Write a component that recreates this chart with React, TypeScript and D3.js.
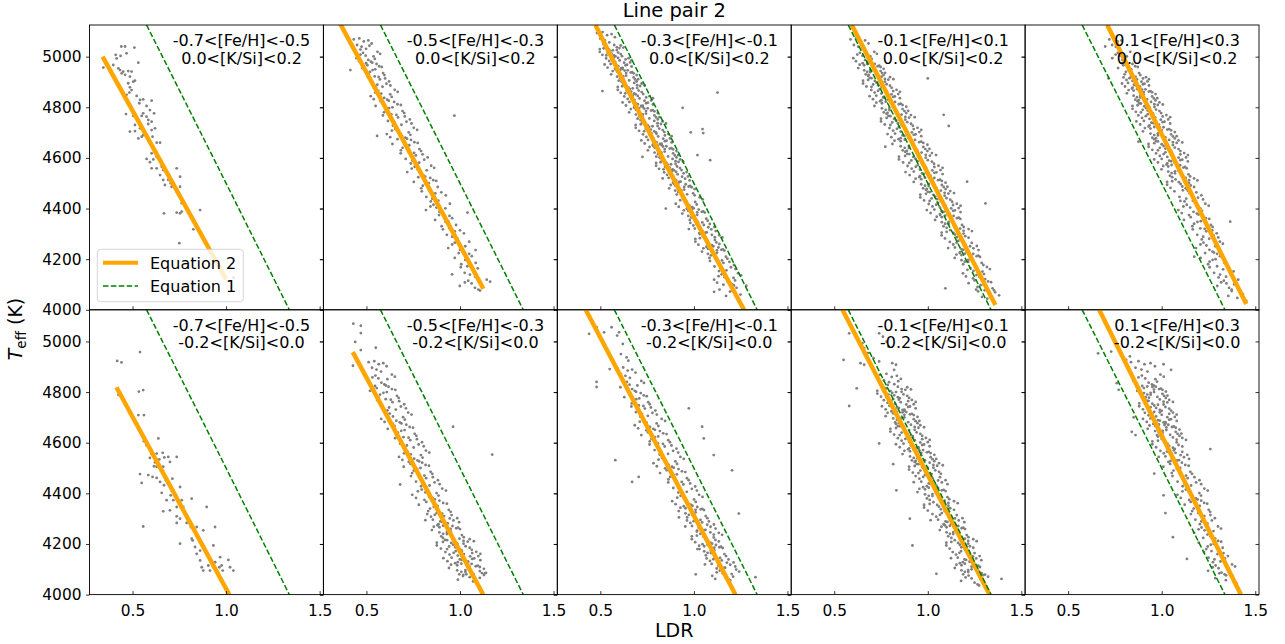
import { useEffect, useRef } from "react";
import * as d3 from "d3";

const feHBins = ["-0.7<[Fe/H]<-0.5", "-0.5<[Fe/H]<-0.3", "-0.3<[Fe/H]<-0.1", "-0.1<[Fe/H]<0.1", "0.1<[Fe/H]<0.3"];
const kSiBins = ["0.0<[K/Si]<0.2", "-0.2<[K/Si]<0.0"];
const xTicks = [0.5, 1.0, 1.5];
const yTicks = [4000, 4200, 4400, 4600, 4800, 5000];
const ldrRange = [0.27, 1.52];
const teffRange = [4000, 5125];

// Equation 1 does not depend on abundances, same curve in every panel
const equation1 = [[0.575, 5125], [0.932, 4600], [1.338, 4000]];

// Equation 2, one per panel (upper row: 0.0<[K/Si]<0.2, lower row: -0.2<[K/Si]<0.0)
const eq2Upper = [
  [[0.34, 5000], [1.0, 4120]],
  [[0.356, 5135], [1.125, 4083]],
  [[0.474, 5125], [0.832, 4600], [1.268, 4000]],
  [[0.594, 5125], [1.361, 4019]],
  [[0.709, 5125], [1.452, 4023]],
];
const eq2Lower = [
  [[0.414, 4819], [1.017, 4000]],
  [[0.427, 4958], [1.124, 4000]],
  [[0.422, 5125], [1.222, 4000]],
  [[0.544, 5125], [1.33, 4000]],
  [[0.666, 5125], [1.423, 4000]],
];

const upperM07 = [[0.44,5040],[0.46,5040],[0.51,5036],[0.41,5007],[0.415,4993],[0.436,5003],[0.468,5013],[0.531,4976],[0.344,4957],[0.397,4967],[0.424,4954],[0.433,4947],[0.45,4941],[0.477,4943],[0.495,4941],[0.442,4934],[0.46,4928],[0.486,4921],[0.504,4901],[0.513,4905],[0.477,4895],[0.486,4879],[0.495,4868],[0.483,4858],[0.468,4849],[0.522,4845],[0.54,4829],[0.536,4816],[0.557,4831],[0.602,4826],[0.575,4805],[0.593,4789],[0.615,4776],[0.557,4776],[0.549,4766],[0.575,4763],[0.584,4750],[0.602,4743],[0.465,4773],[0.504,4766],[0.513,4730],[0.584,4734],[0.62,4717],[0.602,4710],[0.54,4717],[0.486,4704],[0.513,4706],[0.549,4684],[0.531,4677],[0.557,4690],[0.584,4671],[0.607,4684],[0.629,4660],[0.611,4638],[0.647,4660],[0.602,4618],[0.629,4605],[0.611,4594],[0.575,4596],[0.593,4583],[0.656,4565],[0.629,4559],[0.602,4559],[0.664,4552],[0.647,4532],[0.664,4513],[0.673,4493],[0.691,4513],[0.704,4500],[0.736,4559],[0.754,4526],[0.709,4486],[0.754,4486],[0.736,4467],[0.763,4421],[0.754,4381],[0.736,4384],[0.763,4388],[0.861,4394],[0.668,4381],[0.825,4318],[0.75,4263],[1.04,4127]];

const upperM05 = [[0.432,5068],[0.462,5072],[0.486,5060],[0.45,5046],[0.51,5064],[0.474,5039],[0.498,5031],[0.528,5052],[0.468,5028],[0.516,5043],
[0.447,4994],[0.482,5015],[0.524,4980],[0.468,5008],[0.538,5001],[0.51,4987],[0.559,5019],[0.496,5004],[0.531,4976],[0.573,5011],[0.461,4982],[0.545,4991],
[0.498,4974],[0.533,4947],[0.568,4962],[0.477,4955],[0.589,4935],[0.554,4971],[0.512,4930],[0.547,4950],[0.582,4959],[0.519,4940],[0.596,4927],[0.505,4966],[0.414,4947],
[0.509,4918],[0.544,4922],[0.572,4910],[0.53,4896],[0.60,4914],[0.558,4889],[0.586,4881],[0.621,4902],[0.551,4878],[0.607,4893],[0.565,4920],[0.628,4886],
[0.523,4844],[0.563,4865],[0.611,4830],[0.547,4858],[0.627,4851],[0.595,4837],[0.651,4869],[0.579,4854],[0.619,4826],[0.667,4861],[0.539,4832],[0.635,4841],
[0.576,4824],[0.621,4797],[0.666,4812],[0.549,4805],[0.693,4785],[0.648,4821],[0.594,4780],[0.639,4800],[0.684,4809],[0.603,4790],[0.702,4777],[0.585,4816],
[0.588,4768],[0.633,4772],[0.669,4760],[0.615,4746],[0.705,4764],[0.651,4739],[0.687,4731],[0.732,4752],[0.642,4728],[0.714,4743],[0.66,4770],[0.741,4736],[0.97,4767],
[0.609,4694],[0.654,4715],[0.708,4680],[0.636,4708],[0.726,4701],[0.69,4687],[0.753,4719],[0.672,4704],[0.717,4676],[0.771,4711],[0.627,4682],[0.735,4691],[0.557,4687],
[0.666,4674],[0.711,4647],[0.756,4662],[0.639,4655],[0.783,4635],[0.738,4671],[0.684,4630],[0.729,4650],[0.774,4659],[0.693,4640],[0.792,4627],
[0.683,4618],[0.728,4622],[0.764,4610],[0.71,4596],[0.80,4614],[0.746,4589],[0.782,4581],[0.827,4602],[0.737,4578],[0.809,4593],[0.755,4620],
[0.718,4544],[0.758,4565],[0.806,4530],[0.742,4558],[0.822,4551],[0.79,4537],[0.846,4569],[0.774,4554],[0.814,4526],[0.862,4561],
[0.777,4524],[0.817,4497],[0.857,4512],[0.753,4505],[0.881,4485],[0.841,4521],[0.793,4480],[0.833,4500],[0.873,4509],[0.801,4490],
[0.796,4468],[0.836,4472],[0.868,4460],[0.82,4446],[0.90,4464],[0.852,4439],[0.884,4431],[0.924,4452],[0.844,4428],
[0.818,4394],[0.858,4415],[0.906,4380],[0.842,4408],[0.922,4401],[0.89,4387],[0.946,4419],[0.874,4404],[0.914,4376],[1.04,4384],
[0.888,4374],[0.923,4347],[0.958,4362],[0.867,4355],[0.979,4335],[0.944,4371],[0.902,4330],[0.937,4350],
[0.909,4318],[0.944,4322],[0.972,4310],[0.93,4296],[1.00,4314],[0.958,4289],[0.986,4281],[1.021,4302],
[0.937,4244],[0.972,4265],[1.014,4230],[0.958,4258],[1.028,4251],[1.0,4237],[1.049,4269],
[0.993,4224],[1.028,4197],[1.063,4212],[0.972,4205],[1.084,4185],[1.049,4221],[1.007,4180],[1.042,4200],[1.083,4236],
[1.004,4168],[1.039,4172],[1.067,4160],[1.025,4146],[1.095,4164],[1.053,4139],[1.081,4131],[0.958,4140],
[0.999,4094],[1.044,4115],[1.098,4080],[1.026,4108],[1.116,4101],[1.08,4087],[1.143,4119],[1.062,4104],[1.107,4076],[1.161,4111]];

const upperM03 = [[0.482,5093],[0.512,5097],[0.536,5085],[0.50,5071],[0.56,5089],[0.524,5064],[0.548,5056],[0.578,5077],
[0.497,5019],[0.532,5040],[0.574,5005],[0.518,5033],[0.588,5026],[0.56,5012],[0.609,5044],[0.546,5029],[0.581,5001],[0.623,5036],[0.511,5007],[0.595,5016],
[0.518,5049],[0.553,5022],[0.588,5037],[0.497,5030],[0.609,5010],[0.574,5046],[0.532,5005],[0.567,5025],[0.602,5034],[0.539,5015],[0.616,5002],[0.525,5041],
[0.531,4993],[0.571,4997],[0.603,4985],[0.555,4971],[0.635,4989],[0.587,4964],[0.619,4956],[0.659,4977],[0.579,4953],[0.643,4968],[0.595,4995],[0.667,4961],
[0.523,4969],[0.563,4990],[0.611,4955],[0.547,4983],[0.627,4976],[0.595,4962],[0.651,4994],[0.579,4979],[0.619,4951],[0.667,4986],[0.539,4957],[0.635,4966],
[0.582,4949],[0.622,4922],[0.662,4937],[0.558,4930],[0.686,4910],[0.646,4946],[0.598,4905],[0.638,4925],[0.678,4934],[0.606,4915],[0.694,4902],[0.59,4941],
[0.566,4943],[0.606,4947],[0.638,4935],[0.59,4921],[0.67,4939],[0.622,4914],[0.654,4906],[0.694,4927],[0.614,4903],[0.678,4918],[0.63,4945],[0.702,4911],[0.511,4864],
[0.593,4869],[0.633,4890],[0.681,4855],[0.617,4883],[0.697,4876],[0.665,4862],[0.721,4894],[0.649,4879],[0.689,4851],[0.737,4886],[0.609,4857],[0.705,4866],
[0.617,4899],[0.657,4872],[0.697,4887],[0.593,4880],[0.721,4860],[0.681,4896],[0.633,4855],[0.673,4875],[0.713,4884],[0.641,4865],[0.729,4852],[0.625,4891],[1.126,4858],
[0.628,4843],[0.673,4847],[0.709,4835],[0.655,4821],[0.745,4839],[0.691,4814],[0.727,4806],[0.772,4827],[0.682,4803],[0.754,4818],[0.70,4845],[0.781,4811],
[0.619,4819],[0.664,4840],[0.718,4805],[0.646,4833],[0.736,4826],[0.70,4812],[0.763,4844],[0.682,4829],[0.727,4801],[0.781,4836],[0.637,4807],[0.745,4816],[0.94,4798],
[0.681,4799],[0.726,4772],[0.771,4787],[0.654,4780],[0.798,4760],[0.753,4796],[0.699,4755],[0.744,4775],[0.789,4784],[0.708,4765],[0.807,4752],[0.69,4791],
[0.663,4793],[0.708,4797],[0.744,4785],[0.69,4771],[0.78,4789],[0.726,4764],[0.762,4756],[0.807,4777],[0.717,4753],[0.789,4768],[0.735,4795],[0.816,4761],
[0.689,4719],[0.734,4740],[0.788,4705],[0.716,4733],[0.806,4726],[0.77,4712],[0.833,4744],[0.752,4729],[0.797,4701],[0.851,4736],[0.707,4707],[0.815,4716],
[0.716,4749],[0.761,4722],[0.806,4737],[0.689,4730],[0.833,4710],[0.788,4746],[0.734,4705],[0.779,4725],[0.824,4734],[0.743,4715],[0.842,4702],[0.725,4741],[0.983,4701],[1.046,4714],[1.05,4698],
[0.728,4693],[0.773,4697],[0.809,4685],[0.755,4671],[0.845,4689],[0.791,4664],[0.827,4656],[0.872,4677],[0.782,4653],[0.854,4668],[0.80,4695],[0.881,4661],
[0.719,4669],[0.764,4690],[0.818,4655],[0.746,4683],[0.836,4676],[0.80,4662],[0.863,4694],[0.782,4679],[0.827,4651],[0.881,4686],[0.737,4657],[0.845,4666],
[0.781,4649],[0.826,4622],[0.871,4637],[0.754,4630],[0.898,4610],[0.853,4646],[0.799,4605],[0.844,4625],[0.889,4634],[0.808,4615],[0.907,4602],[0.79,4641],
[0.763,4643],[0.808,4647],[0.844,4635],[0.79,4621],[0.88,4639],[0.826,4614],[0.862,4606],[0.907,4627],[0.817,4603],[0.889,4618],[0.835,4645],[0.916,4611],[0.725,4604],[1.019,4611],[1.087,4591],
[0.798,4569],[0.838,4590],[0.886,4555],[0.822,4583],[0.902,4576],[0.87,4562],[0.926,4594],[0.854,4579],[0.894,4551],[0.942,4586],[0.814,4557],[0.91,4566],
[0.822,4599],[0.862,4572],[0.902,4587],[0.798,4580],[0.926,4560],[0.886,4596],[0.838,4555],[0.878,4575],[0.918,4584],[0.846,4565],[0.934,4552],[0.83,4591],
[0.841,4543],[0.881,4547],[0.913,4535],[0.865,4521],[0.945,4539],[0.897,4514],[0.929,4506],[0.969,4527],[0.889,4503],[0.953,4518],[0.905,4545],[0.977,4511],
[0.833,4519],[0.873,4540],[0.921,4505],[0.857,4533],[0.937,4526],[0.905,4512],[0.961,4544],[0.889,4529],
[0.892,4499],[0.932,4472],[0.972,4487],[0.868,4480],[0.996,4460],[0.956,4496],[0.908,4455],[0.948,4475],[0.988,4484],[0.916,4465],[1.004,4452],[0.90,4491],
[0.876,4493],[0.916,4497],[0.948,4485],[0.90,4471],[0.98,4489],[0.932,4464],[0.964,4456],[1.004,4477],
[0.903,4419],[0.943,4440],[0.991,4405],[0.927,4433],[1.007,4426],[0.975,4412],[1.031,4444],[0.959,4429],[0.999,4401],[1.047,4436],[0.919,4407],[1.015,4416],[0.85,4400],
[0.962,4399],[1.002,4372],[1.042,4387],[0.938,4380],[1.066,4360],[1.026,4396],[0.978,4355],[1.018,4375],[1.058,4384],[0.986,4365],[1.074,4352],[0.97,4391],
[0.946,4393],[0.986,4397],[1.018,4385],[0.97,4371],[1.05,4389],[1.002,4364],
[0.981,4343],[1.021,4347],[1.053,4335],[1.005,4321],[1.085,4339],[1.037,4314],[1.069,4306],[1.109,4327],[1.029,4303],[1.093,4318],[1.045,4345],[1.117,4311],
[0.973,4319],[1.013,4340],[1.061,4305],[0.997,4333],[1.077,4326],[1.045,4312],
[1.008,4269],[1.048,4290],[1.096,4255],[1.032,4283],[1.112,4276],[1.08,4262],[1.136,4294],[1.064,4279],[1.104,4251],[1.152,4286],[1.024,4257],[1.12,4266],
[1.032,4299],[1.072,4272],[1.112,4287],[1.008,4280],[1.136,4260],[1.096,4296],
[1.067,4249],[1.107,4222],[1.147,4237],[1.043,4230],[1.171,4210],[1.131,4246],[1.083,4205],[1.123,4225],[1.163,4234],[1.091,4215],[1.179,4202],[1.075,4241],
[1.051,4243],[1.091,4247],[1.123,4235],[1.075,4221],[1.155,4239],[1.107,4214],
[1.086,4193],[1.126,4197],[1.158,4185],[1.11,4171],[1.19,4189],[1.142,4164],[1.174,4156],[1.214,4177],[1.134,4153],[1.198,4168],[1.15,4195],[1.222,4161],
[1.108,4119],[1.148,4140],[1.196,4105],[1.132,4133],[1.212,4126],[1.18,4112],[1.236,4144],[1.164,4129],[1.204,4101],[1.252,4136],[1.124,4107],[1.22,4116],
[1.158,4099],[1.193,4072],[1.228,4087],[1.137,4080],[1.249,4060],[1.214,4096],[1.172,4055],[1.207,4075],[1.108,4071],[1.28,4095]];

const upperM01 = [[0.587,5068],[0.617,5072],[0.641,5060],[0.605,5046],[0.665,5064],[0.629,5039],[0.653,5031],[0.683,5052],
[0.602,4994],[0.637,5015],[0.679,4980],[0.623,5008],[0.693,5001],[0.665,4987],[0.714,5019],[0.651,5004],[0.686,4976],[0.728,5011],[0.616,4982],[0.70,4991],
[0.652,4974],[0.692,4947],[0.732,4962],[0.628,4955],[0.756,4935],[0.716,4971],[0.668,4930],[0.708,4950],[0.748,4959],[0.676,4940],[0.764,4927],[0.66,4966],
[0.636,4968],[0.676,4972],[0.708,4960],[0.66,4946],[0.74,4964],[0.692,4939],[0.724,4931],[0.764,4952],[0.684,4928],[0.748,4943],[0.70,4970],[0.772,4936],
[0.654,4894],[0.699,4915],[0.753,4880],[0.681,4908],[0.771,4901],[0.735,4887],[0.798,4919],[0.717,4904],[0.762,4876],[0.816,4911],[0.672,4882],[0.78,4891],
[0.681,4924],[0.726,4897],[0.771,4912],[0.654,4905],[0.798,4885],[0.753,4921],[0.699,4880],[0.744,4900],[0.789,4909],[0.708,4890],[0.807,4877],[0.69,4916],[1.00,4914],
[0.698,4868],[0.743,4872],[0.779,4860],[0.725,4846],[0.815,4864],[0.761,4839],[0.797,4831],[0.842,4852],[0.752,4828],[0.824,4843],[0.77,4870],[0.851,4836],
[0.689,4844],[0.734,4865],[0.788,4830],[0.716,4858],[0.806,4851],[0.77,4837],[0.833,4869],[0.752,4854],[0.797,4826],[0.851,4861],[0.707,4832],[0.815,4841],
[0.745,4824],[0.795,4797],[0.845,4812],[0.715,4805],[0.875,4785],[0.825,4821],[0.765,4780],[0.815,4800],[0.865,4809],[0.775,4790],[0.885,4777],[0.755,4816],
[0.725,4818],[0.775,4822],[0.815,4810],[0.755,4796],[0.855,4814],[0.795,4789],[0.835,4781],[0.885,4802],[0.785,4778],[0.865,4793],[0.805,4820],[0.895,4786],[1.085,4770],
[0.75,4744],[0.80,4765],[0.86,4730],[0.78,4758],[0.88,4751],[0.84,4737],[0.91,4769],[0.82,4754],[0.87,4726],[0.93,4761],[0.77,4732],[0.89,4741],
[0.78,4774],[0.83,4747],[0.88,4762],[0.75,4755],[0.91,4735],[0.86,4771],[0.80,4730],[0.85,4750],[0.90,4759],[0.81,4740],[0.92,4727],[0.79,4766],[1.112,4726],
[0.795,4718],[0.845,4722],[0.885,4710],[0.825,4696],[0.925,4714],[0.865,4689],[0.905,4681],[0.955,4702],[0.855,4678],[0.935,4693],[0.875,4720],[0.965,4686],
[0.785,4694],[0.835,4715],[0.895,4680],[0.815,4708],[0.915,4701],[0.875,4687],[0.945,4719],[0.855,4704],[0.905,4676],[0.965,4711],[0.805,4682],[0.925,4691],
[0.844,4674],[0.899,4647],[0.954,4662],[0.811,4655],[0.987,4635],[0.932,4671],[0.866,4630],[0.921,4650],[0.976,4659],[0.877,4640],[0.998,4627],[0.855,4666],
[0.822,4668],[0.877,4672],[0.921,4660],[0.855,4646],[0.965,4664],[0.899,4639],[0.943,4631],[0.998,4652],[0.888,4628],[0.976,4643],[0.91,4670],[1.009,4636],[0.773,4644],
[0.846,4594],[0.901,4615],[0.967,4580],[0.879,4608],[0.989,4601],[0.945,4587],[1.022,4619],[0.923,4604],[0.978,4576],[1.044,4611],[0.868,4582],[1.00,4591],
[0.879,4624],[0.934,4597],[0.989,4612],[0.846,4605],[1.022,4585],[0.967,4621],[0.901,4580],[0.956,4600],[1.011,4609],[0.912,4590],[1.033,4577],[0.89,4616],
[0.892,4568],[0.947,4572],[0.991,4560],[0.925,4546],[1.035,4564],[0.969,4539],[1.013,4531],[1.068,4552],[0.958,4528],[1.046,4543],[0.98,4570],[1.079,4536],
[0.881,4544],[0.936,4565],[1.002,4530],[0.914,4558],[1.024,4551],[0.98,4537],[1.057,4569],[0.958,4554],[1.013,4526],[1.079,4561],[0.903,4532],[1.035,4541],
[0.955,4524],[1.005,4497],[1.055,4512],[0.925,4505],[1.085,4485],[1.035,4521],[0.975,4480],[1.025,4500],[1.075,4509],[0.985,4490],[1.095,4477],[0.965,4516],
[0.935,4518],[0.985,4522],[1.025,4510],[0.965,4496],[1.065,4514],[1.005,4489],[1.045,4481],[1.095,4502],[0.995,4478],[1.075,4493],[1.015,4520],[1.105,4486],[1.21,4506],
[0.96,4444],[1.01,4465],[1.07,4430],[0.99,4458],[1.09,4451],[1.05,4437],[1.12,4469],[1.03,4454],[1.08,4426],[1.14,4461],[0.98,4432],[1.10,4441],
[0.99,4474],[1.04,4447],[1.09,4462],[0.96,4455],[1.12,4435],[1.07,4471],[1.01,4430],[1.06,4450],[1.11,4459],[1.02,4440],[1.13,4427],[1.00,4466],
[1.005,4418],[1.055,4422],[1.095,4410],[1.035,4396],[1.135,4414],[1.075,4389],[1.115,4381],[1.165,4402],[1.065,4378],[1.145,4393],[1.085,4420],[1.175,4386],
[0.995,4394],[1.045,4415],[1.105,4380],[1.025,4408],[1.125,4401],[1.085,4387],[1.155,4419],[1.065,4404],[1.115,4376],[1.175,4411],[1.015,4382],[1.135,4391],[1.308,4420],
[1.066,4374],[1.111,4347],[1.156,4362],[1.039,4355],[1.183,4335],[1.138,4371],[1.084,4330],[1.129,4350],[1.174,4359],[1.093,4340],[1.192,4327],[1.075,4366],
[1.048,4368],[1.093,4372],[1.129,4360],[1.075,4346],[1.165,4364],[1.111,4339],
[1.074,4294],[1.119,4315],[1.173,4280],[1.101,4308],[1.191,4301],[1.155,4287],[1.218,4319],[1.137,4304],[1.182,4276],[1.236,4311],[1.092,4282],[1.20,4291],
[1.101,4324],[1.146,4297],[1.191,4312],[1.074,4305],[1.218,4285],[1.173,4321],
[1.118,4268],[1.163,4272],[1.199,4260],[1.145,4246],[1.235,4264],[1.181,4239],[1.217,4231],[1.262,4252],[1.172,4228],[1.244,4243],[1.19,4270],[1.271,4236],
[1.109,4244],[1.154,4265],[1.208,4230],[1.136,4258],[1.226,4251],[1.19,4237],
[1.171,4224],[1.216,4197],[1.261,4212],[1.144,4205],[1.288,4185],[1.243,4221],[1.189,4180],[1.234,4200],[1.279,4209],[1.198,4190],[1.297,4177],[1.18,4216],
[1.153,4218],[1.198,4222],[1.234,4210],[1.18,4196],[1.27,4214],[1.216,4189],
[1.188,4144],[1.228,4165],[1.276,4130],[1.212,4158],[1.292,4151],[1.26,4137],[1.316,4169],[1.244,4154],[1.284,4126],[1.332,4161],[1.204,4132],[1.30,4141],
[1.242,4124],[1.282,4097],[1.322,4112],[1.218,4105],[1.346,4085],[1.306,4121],[1.258,4080],[1.298,4100],[1.338,4109],[1.266,4090],[1.354,4077],[1.25,4116],[1.094,4085],
[1.269,4073],[1.304,4077],[1.332,4065],[1.29,4051],[1.36,4069],[1.318,4044],[1.346,4036],[1.381,4057]];

const upperP01 = [[0.72,5068],[0.745,5072],[0.765,5060],[0.735,5046],[0.785,5064],[0.755,5039],[0.698,5040],
[0.736,4994],[0.766,5015],[0.802,4980],[0.754,5008],[0.814,5001],[0.79,4987],[0.832,5019],[0.778,5004],[0.716,4914],
[0.788,4974],[0.823,4947],[0.858,4962],[0.767,4955],[0.879,4935],[0.844,4971],[0.802,4930],[0.837,4950],[0.872,4959],[0.809,4940],[0.886,4927],[0.795,4966],
[0.796,4918],[0.836,4922],[0.868,4910],[0.82,4896],[0.90,4914],[0.852,4889],[0.884,4881],[0.924,4902],[0.844,4878],[0.908,4893],[0.86,4920],[0.932,4886],
[0.788,4894],[0.828,4915],[0.876,4880],[0.812,4908],[0.892,4901],[0.86,4887],[0.916,4919],[0.844,4904],[0.884,4876],[0.932,4911],[0.804,4882],[0.90,4891],
[0.841,4874],[0.886,4847],[0.931,4862],[0.814,4855],[0.958,4835],[0.913,4871],[0.859,4830],[0.904,4850],[0.949,4859],[0.868,4840],[0.967,4827],[0.85,4866],
[0.823,4868],[0.868,4872],[0.904,4860],[0.85,4846],[0.94,4864],[0.886,4839],[0.922,4831],[0.967,4852],[0.877,4828],[0.949,4843],[0.895,4870],[0.976,4836],
[0.844,4794],[0.889,4815],[0.943,4780],[0.871,4808],[0.961,4801],[0.925,4787],[0.988,4819],[0.907,4804],[0.952,4776],[1.006,4811],[0.862,4782],[0.97,4791],
[0.871,4824],[0.916,4797],[0.961,4812],[0.844,4805],[0.988,4785],[0.943,4821],[0.889,4780],[0.934,4800],[0.979,4809],[0.898,4790],[0.997,4777],[0.88,4816],
[0.875,4768],[0.925,4772],[0.965,4760],[0.905,4746],[1.005,4764],[0.945,4739],[0.985,4731],[1.035,4752],[0.935,4728],[1.015,4743],[0.955,4770],[1.045,4736],
[0.865,4744],[0.915,4765],[0.975,4730],[0.895,4758],[0.995,4751],[0.955,4737],[1.025,4769],[0.935,4754],[0.985,4726],[1.045,4761],[0.885,4732],[1.005,4741],
[0.93,4724],[0.98,4697],[1.03,4712],[0.90,4705],[1.06,4685],[1.01,4721],[0.95,4680],[1.00,4700],[1.05,4709],[0.96,4690],[1.07,4677],[0.94,4716],
[0.91,4718],[0.96,4722],[1.00,4710],[0.94,4696],[1.04,4714],[0.98,4689],[1.02,4681],[1.07,4702],[0.97,4678],[1.05,4693],[0.99,4720],[1.08,4686],
[0.93,4644],[0.98,4665],[1.04,4630],[0.96,4658],[1.06,4651],[1.02,4637],[1.09,4669],[1.00,4654],[1.05,4626],[1.11,4661],[0.95,4632],[1.07,4641],
[0.96,4674],[1.01,4647],[1.06,4662],[0.93,4655],[1.09,4635],[1.04,4671],[0.98,4630],[1.03,4650],[1.08,4659],[0.99,4640],[1.10,4627],[0.97,4666],[0.876,4664],
[0.97,4618],[1.02,4622],[1.06,4610],[1.00,4596],[1.10,4614],[1.04,4589],[1.08,4581],[1.13,4602],[1.03,4578],[1.11,4593],[1.05,4620],[1.14,4586],
[0.96,4594],[1.01,4615],[1.07,4580],[0.99,4608],[1.09,4601],[1.05,4587],[1.12,4619],[1.03,4604],[1.08,4576],[1.14,4611],[0.98,4582],[1.10,4591],
[1.026,4574],[1.071,4547],[1.116,4562],[0.999,4555],[1.143,4535],[1.098,4571],[1.044,4530],[1.089,4550],[1.134,4559],[1.053,4540],[1.152,4527],[1.035,4566],
[1.008,4568],[1.053,4572],[1.089,4560],[1.035,4546],[1.125,4564],[1.071,4539],
[1.029,4494],[1.074,4515],[1.128,4480],[1.056,4508],[1.146,4501],[1.11,4487],[1.173,4519],[1.092,4504],[1.137,4476],[1.191,4511],[1.047,4482],[1.155,4491],
[1.056,4524],[1.101,4497],[1.146,4512],[1.029,4505],[1.173,4485],[1.128,4521],
[1.068,4468],[1.113,4472],[1.149,4460],[1.095,4446],[1.185,4464],[1.131,4439],[1.167,4431],[1.212,4452],[1.122,4428],[1.194,4443],[1.14,4470],[1.221,4436],
[1.089,4394],[1.134,4415],[1.188,4380],[1.116,4408],[1.206,4401],[1.17,4387],[1.233,4419],[1.152,4404],[1.197,4376],[1.251,4411],[1.107,4382],[1.215,4391],[1.10,4430],
[1.146,4374],[1.191,4347],[1.236,4362],[1.119,4355],[1.263,4335],[1.218,4371],[1.164,4330],[1.209,4350],[1.254,4359],[1.173,4340],[1.272,4327],[1.155,4366],[1.366,4348],
[1.166,4318],[1.206,4322],[1.238,4310],[1.19,4296],[1.27,4314],[1.222,4289],[1.254,4281],[1.294,4302],[1.214,4278],[1.278,4293],[1.23,4320],[1.302,4286],
[1.183,4244],[1.223,4265],[1.271,4230],[1.207,4258],[1.287,4251],[1.255,4237],[1.311,4269],[1.239,4254],[1.279,4226],[1.327,4261],
[1.232,4224],[1.272,4197],[1.312,4212],[1.208,4205],[1.336,4185],[1.296,4221],[1.248,4180],[1.288,4200],[1.328,4209],[1.256,4190],[1.174,4210],
[1.256,4168],[1.296,4172],[1.328,4160],[1.28,4146],[1.36,4164],[1.312,4139],[1.344,4131],[1.384,4152],[1.304,4128],[1.368,4143],
[1.297,4094],[1.332,4115],[1.374,4080],[1.318,4108],[1.388,4101],[1.36,4087],[1.409,4119],[1.346,4104],
[1.374,4074],[1.404,4047],[1.434,4062],[1.356,4055],[1.452,4035],[1.422,4071]];

const lowerM07 = [[0.54,4958],[0.418,4923],[0.441,4917],[0.534,4802],[0.557,4808],[0.424,4789],[0.531,4709],[0.561,4709],[0.561,4606],[0.575,4590],[0.584,4584],[0.638,4617],[0.602,4555],[0.629,4557],[0.661,4560],[0.593,4540],[0.643,4534],[0.67,4542],[0.62,4522],[0.615,4507],[0.629,4505],[0.643,4501],[0.652,4489],[0.664,4505],[0.691,4544],[0.70,4524],[0.736,4544],[0.54,4476],[0.584,4472],[0.607,4465],[0.629,4461],[0.647,4445],[0.668,4432],[0.679,4452],[0.688,4441],[0.713,4458],[0.718,4412],[0.754,4425],[0.549,4441],[0.656,4402],[0.704,4392],[0.682,4373],[0.718,4373],[0.763,4373],[0.736,4346],[0.771,4346],[0.70,4333],[0.664,4329],[0.736,4309],[0.754,4300],[0.816,4379],[0.896,4346],[0.736,4283],[0.789,4283],[0.812,4267],[0.843,4267],[0.557,4269],[0.754,4201],[0.816,4221],[0.821,4214],[0.834,4188],[0.843,4161],[0.861,4174],[0.896,4161],[0.932,4194],[0.861,4135],[0.941,4128],[0.968,4148],[0.87,4108],[0.878,4095],[0.905,4115],[0.914,4095],[0.932,4108],[0.95,4095],[0.964,4108],[0.976,4115],[0.982,4095],[1.012,4137],[1.021,4108],[1.039,4095],[0.941,4267],[0.878,4254]];

const lowerM05 = [[0.43,5070],[0.47,5062],[0.47,5033],[0.44,4998],[0.47,4966],[0.55,4975],[0.428,4904],
[0.512,4918],[0.542,4922],[0.566,4910],[0.53,4896],[0.59,4914],[0.554,4889],[0.578,4881],[0.608,4902],
[0.508,4844],[0.548,4865],[0.596,4830],[0.532,4858],[0.612,4851],[0.58,4837],[0.636,4869],[0.564,4854],[0.604,4826],[0.652,4861],
[0.546,4824],[0.591,4797],[0.636,4812],[0.519,4805],[0.663,4785],[0.618,4821],[0.564,4780],[0.609,4800],[0.654,4809],[0.573,4790],[0.672,4777],[0.555,4816],
[0.558,4768],[0.603,4772],[0.639,4760],[0.585,4746],[0.675,4764],[0.621,4739],[0.657,4731],[0.702,4752],[0.612,4728],[0.684,4743],[0.63,4770],[0.711,4736],
[0.579,4694],[0.624,4715],[0.678,4680],[0.606,4708],[0.696,4701],[0.66,4687],[0.723,4719],[0.642,4704],[0.687,4676],[0.741,4711],[0.597,4682],[0.705,4691],
[0.641,4674],[0.686,4647],[0.731,4662],[0.614,4655],[0.758,4635],[0.713,4671],[0.659,4630],[0.704,4650],[0.749,4659],[0.668,4640],[0.767,4627],[0.65,4666],[0.963,4663],
[0.653,4618],[0.698,4622],[0.734,4610],[0.68,4596],[0.77,4614],[0.716,4589],[0.752,4581],[0.797,4602],[0.707,4578],[0.779,4593],[0.725,4620],[0.806,4586],
[0.674,4544],[0.719,4565],[0.773,4530],[0.701,4558],[0.791,4551],[0.755,4537],[0.818,4569],[0.737,4554],[0.782,4526],[0.836,4561],[0.692,4532],[0.80,4541],[1.172,4553],
[0.726,4524],[0.771,4497],[0.816,4512],[0.699,4505],[0.843,4485],[0.798,4521],[0.744,4480],[0.789,4500],[0.834,4509],[0.753,4490],[0.852,4477],[0.735,4516],
[0.738,4468],[0.783,4472],[0.819,4460],[0.765,4446],[0.855,4464],[0.801,4439],[0.837,4431],[0.882,4452],[0.792,4428],[0.864,4443],[0.81,4470],[0.891,4436],
[0.745,4394],[0.795,4415],[0.855,4380],[0.775,4408],[0.875,4401],[0.835,4387],[0.905,4419],[0.815,4404],[0.865,4376],[0.925,4411],[0.765,4382],[0.885,4391],[0.68,4435],
[0.81,4374],[0.86,4347],[0.91,4362],[0.78,4355],[0.94,4335],[0.89,4371],[0.83,4330],[0.88,4350],[0.93,4359],[0.84,4340],[0.95,4327],[0.82,4366],
[0.825,4318],[0.875,4322],[0.915,4310],[0.855,4296],[0.955,4314],[0.895,4289],[0.935,4281],[0.985,4302],[0.885,4278],[0.965,4293],[0.905,4320],[0.995,4286],
[0.815,4294],[0.865,4315],[0.925,4280],[0.845,4308],[0.945,4301],[0.905,4287],
[0.88,4274],[0.93,4247],[0.98,4262],[0.85,4255],[1.01,4235],[0.96,4271],[0.90,4230],[0.95,4250],[1.00,4259],[0.91,4240],[1.02,4227],[0.89,4266],
[0.86,4268],[0.91,4272],[0.95,4260],[0.89,4246],[0.99,4264],[0.93,4239],
[0.876,4194],[0.931,4215],[0.997,4180],[0.909,4208],[1.019,4201],[0.975,4187],[1.052,4219],[0.953,4204],[1.008,4176],[1.074,4211],[0.898,4182],[1.03,4191],
[0.909,4224],[0.964,4197],[1.019,4212],[0.876,4205],[1.052,4185],[0.997,4221],[0.931,4180],[0.986,4200],[1.041,4209],[0.942,4190],[1.063,4177],[0.92,4216],
[0.922,4168],[0.977,4172],[1.021,4160],[0.955,4146],[1.065,4164],[0.999,4139],[1.043,4131],[1.098,4152],[0.988,4128],[1.076,4143],[1.01,4170],[1.109,4136],
[0.911,4144],[0.966,4165],[1.032,4130],[0.944,4158],[1.054,4151],[1.01,4137],[1.087,4169],[0.988,4154],[1.043,4126],[1.109,4161],[0.933,4132],[1.065,4141],
[0.974,4124],[1.029,4097],[1.084,4112],[0.941,4105],[1.117,4085],[1.062,4121],[0.996,4080],[1.051,4100],[1.106,4109],[1.007,4090],[1.128,4077],[0.985,4116],
[0.952,4118],[1.007,4122],[1.051,4110],[0.985,4096],[1.095,4114],[1.029,4089],[1.073,4081],[1.128,4102],[1.018,4078],[1.106,4093],[1.04,4120],[1.139,4086],
[0.989,4059],[1.034,4080],[1.088,4045],[1.016,4073],[1.106,4066],[1.07,4052],[1.133,4084],[1.052,4069]];

const lowerM03 = [[0.44,5030],[0.48,5056],[0.52,5036],[0.56,5056],[0.59,5023],[0.60,5036],[0.62,4990],[0.64,4937],[0.65,4924],[0.61,4950],[0.55,4891],[0.48,4840],[0.48,4820],
[0.592,4893],[0.622,4897],[0.646,4885],[0.61,4871],[0.67,4889],[0.634,4864],[0.658,4856],[0.688,4877],
[0.607,4819],[0.642,4840],[0.684,4805],[0.628,4833],[0.698,4826],[0.67,4812],[0.719,4844],[0.656,4829],[0.691,4801],[0.733,4836],
[0.652,4799],[0.692,4772],[0.732,4787],[0.628,4780],[0.756,4760],[0.716,4796],[0.668,4755],[0.708,4775],[0.748,4784],[0.676,4765],[0.764,4752],[0.66,4791],[0.973,4736],
[0.666,4743],[0.706,4747],[0.738,4735],[0.69,4721],[0.77,4739],[0.722,4714],[0.754,4706],[0.794,4727],[0.714,4703],[0.778,4718],[0.73,4745],[0.802,4711],
[0.684,4669],[0.729,4690],[0.783,4655],[0.711,4683],[0.801,4676],[0.765,4662],[0.828,4694],[0.747,4679],[0.792,4651],[0.846,4686],[0.702,4657],[0.81,4666],[1.044,4663],
[0.746,4649],[0.791,4622],[0.836,4637],[0.719,4630],[0.863,4610],[0.818,4646],[0.764,4605],[0.809,4625],[0.854,4634],[0.773,4615],[0.872,4602],[0.755,4641],[1.053,4617],
[0.763,4593],[0.808,4597],[0.844,4585],[0.79,4571],[0.88,4589],[0.826,4564],[0.862,4556],[0.907,4577],[0.817,4553],[0.889,4568],[0.835,4595],[0.916,4561],[1.106,4551],
[0.784,4519],[0.829,4540],[0.883,4505],[0.811,4533],[0.901,4526],[0.865,4512],[0.928,4544],[0.847,4529],[0.892,4501],[0.946,4536],[0.802,4507],[0.91,4516],[0.58,4531],
[0.846,4499],[0.891,4472],[0.936,4487],[0.819,4480],[0.963,4460],[0.918,4496],[0.864,4455],[0.909,4475],[0.954,4484],[0.873,4465],[0.972,4452],[0.855,4491],[1.204,4491],[0.705,4465],
[0.863,4443],[0.908,4447],[0.944,4435],[0.89,4421],[0.98,4439],[0.926,4414],[0.962,4406],[1.007,4427],[0.917,4403],[0.989,4418],[0.935,4445],[1.016,4411],[0.67,4445],
[0.884,4369],[0.929,4390],[0.983,4355],[0.911,4383],[1.001,4376],[0.965,4362],[1.028,4394],[0.947,4379],[0.992,4351],[1.046,4386],[0.902,4357],[1.01,4366],
[0.946,4349],[0.991,4322],[1.036,4337],[0.919,4330],[1.063,4310],[1.018,4346],[0.964,4305],[1.009,4325],[1.054,4334],[0.973,4315],[1.072,4302],[0.955,4341],
[0.928,4343],[0.973,4347],[1.009,4335],[0.955,4321],[1.045,4339],[0.991,4314],[1.24,4320],
[0.963,4293],[1.008,4297],[1.044,4285],[0.99,4271],[1.08,4289],[1.026,4264],[1.062,4256],[1.107,4277],[1.017,4253],[1.089,4268],[1.035,4295],[1.116,4261],
[0.954,4269],[0.999,4290],[1.053,4255],[0.981,4283],[1.071,4276],[1.035,4262],[0.92,4305],
[0.989,4219],[1.034,4240],[1.088,4205],[1.016,4233],[1.106,4226],[1.07,4212],[1.133,4244],[1.052,4229],[1.097,4201],[1.151,4236],[1.007,4207],[1.115,4216],
[1.016,4249],[1.061,4222],[1.106,4237],[0.989,4230],[1.133,4210],[1.088,4246],
[1.046,4199],[1.091,4172],[1.136,4187],[1.019,4180],[1.163,4160],[1.118,4196],[1.064,4155],[1.109,4175],[1.154,4184],[1.073,4165],[1.172,4152],[1.055,4191],
[1.028,4193],[1.073,4197],[1.109,4185],[1.055,4171],[1.145,4189],[1.091,4164],[1.03,4180],
[1.068,4143],[1.113,4147],[1.149,4135],[1.095,4121],[1.185,4139],[1.131,4114],[1.167,4106],[1.212,4127],[1.122,4103],[1.194,4118],[1.14,4145],[1.221,4111],
[1.059,4119],[1.104,4140],[1.158,4105],[1.086,4133],[1.176,4126],[1.14,4112],
[1.098,4074],[1.138,4095],[1.186,4060],[1.122,4088],[1.202,4081],[1.17,4067],[1.226,4099],[1.154,4084],[1.194,4056],[1.242,4091],[1.114,4062],[1.21,4071],[1.329,4069],[1.01,4080]];

const lowerM01 = [[0.58,5032],[0.61,5038],[0.65,4993],[0.66,4974],[0.68,4954],[0.71,4934],[0.74,5032],[0.76,5019],[0.78,4999],[0.79,4980],[0.55,4927],[0.62,4815],[0.64,4914],[0.66,4908],[0.74,4921],[0.81,4914],[0.83,4908],[0.82,4888],[0.58,4745],[0.74,4597],[0.815,4515],[0.832,4412],[0.904,4300],[0.918,4194],[1.046,4082],[1.394,4062],
[0.744,4868],[0.779,4872],[0.807,4860],[0.765,4846],[0.835,4864],[0.793,4839],[0.821,4831],[0.856,4852],[0.786,4828],[0.842,4843],
[0.73,4794],[0.78,4815],[0.84,4780],[0.76,4808],[0.86,4801],[0.82,4787],[0.89,4819],[0.80,4804],[0.85,4776],[0.91,4811],[0.75,4782],[0.87,4791],
[0.76,4824],[0.81,4797],[0.86,4812],[0.73,4805],[0.89,4785],[0.84,4821],[0.78,4780],[0.83,4800],[0.88,4809],[0.79,4790],[0.90,4777],[0.77,4816],
[0.765,4768],[0.815,4772],[0.855,4760],[0.795,4746],[0.895,4764],[0.835,4739],[0.875,4731],[0.925,4752],[0.825,4728],[0.905,4743],[0.845,4770],[0.935,4736],
[0.755,4744],[0.805,4765],[0.865,4730],[0.785,4758],[0.885,4751],[0.845,4737],[0.915,4769],[0.825,4754],[0.875,4726],[0.935,4761],[0.775,4732],[0.895,4741],
[0.805,4724],[0.855,4697],[0.905,4712],[0.775,4705],[0.935,4685],[0.885,4721],[0.825,4680],[0.875,4700],[0.925,4709],[0.835,4690],[0.945,4677],[0.815,4716],
[0.785,4718],[0.835,4722],[0.875,4710],[0.815,4696],[0.915,4714],[0.855,4689],[0.895,4681],[0.945,4702],[0.845,4678],[0.925,4693],[0.865,4720],[0.955,4686],
[0.80,4644],[0.85,4665],[0.91,4630],[0.83,4658],[0.93,4651],[0.89,4637],[0.96,4669],[0.87,4654],[0.92,4626],[0.98,4661],[0.82,4632],[0.94,4641],
[0.83,4674],[0.88,4647],[0.93,4662],[0.80,4655],[0.96,4635],[0.91,4671],[0.85,4630],[0.90,4650],[0.95,4659],[0.86,4640],[0.97,4627],[0.84,4666],
[0.84,4618],[0.89,4622],[0.93,4610],[0.87,4596],[0.97,4614],[0.91,4589],[0.95,4581],[1.00,4602],[0.90,4578],[0.98,4593],[0.92,4620],[1.01,4586],
[0.83,4594],[0.88,4615],[0.94,4580],[0.86,4608],[0.96,4601],[0.92,4587],[0.99,4619],[0.90,4604],[0.95,4576],[1.01,4611],[0.85,4582],[0.97,4591],
[0.895,4574],[0.945,4547],[0.995,4562],[0.865,4555],[1.025,4535],[0.975,4571],[0.915,4530],[0.965,4550],[1.015,4559],[0.925,4540],[1.035,4527],[0.905,4566],
[0.875,4568],[0.925,4572],[0.965,4560],[0.905,4546],[1.005,4564],[0.945,4539],[0.985,4531],[1.035,4552],[0.935,4528],[1.015,4543],[0.955,4570],[1.045,4536],
[0.90,4494],[0.95,4515],[1.01,4480],[0.93,4508],[1.03,4501],[0.99,4487],[1.06,4519],[0.97,4504],[1.02,4476],[1.08,4511],[0.92,4482],[1.04,4491],
[0.93,4524],[0.98,4497],[1.03,4512],[0.90,4505],[1.06,4485],[1.01,4521],[0.95,4480],[1.00,4500],[1.05,4509],[0.96,4490],[1.07,4477],[0.94,4516],
[0.935,4468],[0.985,4472],[1.025,4460],[0.965,4446],[1.065,4464],[1.005,4439],[1.045,4431],[1.095,4452],[0.995,4428],[1.075,4443],[1.015,4470],[1.105,4436],
[0.925,4444],[0.975,4465],[1.035,4430],[0.955,4458],[1.055,4451],[1.015,4437],
[0.975,4424],[1.025,4397],[1.075,4412],[0.945,4405],[1.105,4385],[1.055,4421],[0.995,4380],[1.045,4400],[1.095,4409],[1.005,4390],[1.115,4377],[0.985,4416],
[0.955,4418],[1.005,4422],[1.045,4410],[0.985,4396],[1.085,4414],[1.025,4389],
[0.98,4344],[1.03,4365],[1.09,4330],[1.01,4358],[1.11,4351],[1.07,4337],[1.14,4369],[1.05,4354],[1.10,4326],[1.16,4361],[1.00,4332],[1.12,4341],
[1.01,4374],[1.06,4347],[1.11,4362],[0.98,4355],[1.14,4335],[1.09,4371],
[1.025,4318],[1.075,4322],[1.115,4310],[1.055,4296],[1.155,4314],[1.095,4289],[1.135,4281],[1.185,4302],[1.085,4278],[1.165,4293],[1.105,4320],[1.195,4286],
[1.015,4294],[1.065,4315],[1.125,4280],[1.045,4308],[1.145,4301],[1.105,4287],
[1.091,4274],[1.136,4247],[1.181,4262],[1.064,4255],[1.208,4235],[1.163,4271],[1.109,4230],[1.154,4250],[1.199,4259],[1.118,4240],[1.217,4227],[1.10,4266],
[1.073,4268],[1.118,4272],[1.154,4260],[1.10,4246],[1.19,4264],[1.136,4239],
[1.099,4194],[1.144,4215],[1.198,4180],[1.126,4208],[1.216,4201],[1.18,4187],[1.243,4219],[1.162,4204],[1.207,4176],[1.261,4211],[1.117,4182],[1.225,4191],
[1.126,4224],[1.171,4197],[1.216,4212],[1.099,4205],[1.243,4185],[1.198,4221],
[1.133,4168],[1.178,4172],[1.214,4160],[1.16,4146],[1.25,4164],[1.196,4139],[1.232,4131],[1.277,4152],[1.187,4128],[1.259,4143],[1.205,4170],[1.286,4136],
[1.124,4144],[1.169,4165],[1.223,4130],[1.151,4158],[1.241,4151],[1.205,4137],
[1.171,4124],[1.216,4097],[1.261,4112],[1.144,4105],[1.288,4085],[1.243,4121],[1.189,4080],[1.234,4100],[1.279,4109],[1.198,4090],[1.297,4077],[1.18,4116],
[1.153,4118],[1.198,4122],[1.234,4110],[1.18,4096],[1.27,4114],[1.216,4089],
[1.178,4054],[1.218,4075],[1.266,4040],[1.202,4068],[1.282,4061],[1.25,4047],[1.306,4079],[1.234,4064],[1.274,4036],[1.322,4071]];

const lowerP01 = [[0.66,4953],[0.73,4960],[0.78,4954],[0.83,4941],[0.81,4927],[0.76,4835],[0.77,4809],[0.84,4643],[0.86,4630],[0.85,4700],[1.26,4575],[0.96,4478],[1.01,4392],[1.02,4322],[1.06,4227],[1.135,4141],[1.05,4888],[1.01,4910],
[0.836,4918],[0.876,4922],[0.908,4910],[0.86,4896],[0.94,4914],[0.892,4889],[0.924,4881],[0.964,4902],
[0.849,4844],[0.894,4865],[0.948,4830],[0.876,4858],[0.966,4851],[0.93,4837],[0.993,4869],[0.912,4854],[0.957,4826],[1.011,4861],[0.867,4832],[0.975,4841],
[0.896,4824],[0.941,4797],[0.986,4812],[0.869,4805],[1.013,4785],[0.968,4821],[0.914,4780],[0.959,4800],[1.004,4809],[0.923,4790],[1.022,4777],[0.905,4816],
[0.878,4818],[0.923,4822],[0.959,4810],[0.905,4796],[0.995,4814],[0.941,4789],[0.977,4781],[1.022,4802],[0.932,4778],[1.004,4793],[0.95,4820],[1.031,4786],
[0.88,4744],[0.93,4765],[0.99,4730],[0.91,4758],[1.01,4751],[0.97,4737],[1.04,4769],[0.95,4754],[1.00,4726],[1.06,4761],[0.90,4732],[1.02,4741],
[0.91,4774],[0.96,4747],[1.01,4762],[0.88,4755],[1.04,4735],[0.99,4771],[0.93,4730],[0.98,4750],[1.03,4759],[0.94,4740],[1.05,4727],[0.92,4766],
[0.91,4718],[0.96,4722],[1.00,4710],[0.94,4696],[1.04,4714],[0.98,4689],[1.02,4681],[1.07,4702],[0.97,4678],[1.05,4693],[0.99,4720],[1.08,4686],
[0.90,4694],[0.95,4715],[1.01,4680],[0.93,4708],[1.03,4701],[0.99,4687],[1.06,4719],[0.97,4704],[1.02,4676],[1.08,4711],[0.92,4682],[1.04,4691],
[0.955,4674],[1.005,4647],[1.055,4662],[0.925,4655],[1.085,4635],[1.035,4671],[0.975,4630],[1.025,4650],[1.075,4659],[0.985,4640],[1.095,4627],[0.965,4666],
[0.935,4668],[0.985,4672],[1.025,4660],[0.965,4646],[1.065,4664],[1.005,4639],[1.045,4631],[1.095,4652],[0.995,4628],[1.075,4643],[1.015,4670],[1.105,4636],
[0.95,4594],[1.00,4615],[1.06,4580],[0.98,4608],[1.08,4601],[1.04,4587],[1.11,4619],[1.02,4604],[1.07,4576],[1.13,4611],[0.97,4582],[1.09,4591],
[0.98,4624],[1.03,4597],[1.08,4612],[0.95,4605],[1.11,4585],[1.06,4621],
[0.993,4568],[1.038,4572],[1.074,4560],[1.02,4546],[1.11,4564],[1.056,4539],[1.092,4531],[1.137,4552],[1.047,4528],[1.119,4543],[1.065,4570],[1.146,4536],
[0.984,4544],[1.029,4565],[1.083,4530],[1.011,4558],[1.101,4551],[1.065,4537],
[1.036,4524],[1.081,4497],[1.126,4512],[1.009,4505],[1.153,4485],[1.108,4521],[1.054,4480],[1.099,4500],[1.144,4509],[1.063,4490],[1.162,4477],[1.045,4516],
[1.058,4468],[1.103,4472],[1.139,4460],[1.085,4446],[1.175,4464],[1.121,4439],[1.157,4431],[1.202,4452],[1.112,4428],[1.184,4443],[1.13,4470],[1.211,4436],
[1.084,4394],[1.129,4415],[1.183,4380],[1.111,4408],[1.201,4401],[1.165,4387],[1.228,4419],[1.147,4404],[1.192,4376],[1.246,4411],[1.102,4382],[1.21,4391],
[1.147,4374],[1.187,4347],[1.227,4362],[1.123,4355],[1.251,4335],[1.211,4371],[1.163,4330],[1.203,4350],[1.243,4359],[1.171,4340],[1.259,4327],[1.155,4366],
[1.156,4318],[1.196,4322],[1.228,4310],[1.18,4296],[1.26,4314],[1.212,4289],[1.244,4281],[1.284,4302],[1.204,4278],[1.268,4293],
[1.173,4244],[1.213,4265],[1.261,4230],[1.197,4258],[1.277,4251],[1.245,4237],[1.301,4269],[1.229,4254],[1.269,4226],[1.317,4261],
[1.222,4224],[1.262,4197],[1.302,4212],[1.198,4205],[1.326,4185],[1.286,4221],[1.238,4180],[1.278,4200],[1.318,4209],[1.246,4190],
[1.226,4168],[1.266,4172],[1.298,4160],[1.25,4146],[1.33,4164],[1.282,4139],[1.314,4131],[1.354,4152],[1.274,4128],[1.338,4143],
[1.248,4094],[1.288,4115],[1.336,4080],[1.272,4108],[1.352,4101],[1.32,4087],[1.376,4119],[1.304,4104],[1.344,4076],[1.392,4111],
[1.308,4084],[1.343,4057],[1.378,4072],[1.287,4065],[1.399,4045],[1.364,4081]];

const starsUpper = [upperM07, upperM05, upperM03, upperM01, upperP01];
const starsLower = [lowerM07, lowerM05, lowerM03, lowerM01, lowerP01];

const W = 1285;
const H = 644;
const panelLeft = 89.5;
const panelTop = 25;
const panelW = 233.9;
const panelH = 284.8;
const FONT = "DejaVu Sans, Verdana, sans-serif";

export default function App() {
  const svgRef = useRef(null);

  useEffect(() => {
    document.body.style.margin = "0";
    if (!svgRef.current) return;
    const svg = d3.select(svgRef.current);
    svg.selectAll("*").remove();
    svg.attr("width", W).attr("height", H).style("background", "#fff");

    const panels = [];
    [starsUpper, starsLower].forEach((row, r) =>
      row.forEach((stars, c) =>
        panels.push({ row: r, col: c, stars, eq2: r === 0 ? eq2Upper[c] : eq2Lower[c] })
      )
    );

    panels.forEach((p) => {
      const x0 = panelLeft + p.col * panelW;
      const y0 = panelTop + p.row * panelH;
      const x = d3.scaleLinear().domain(ldrRange).range([x0, x0 + panelW]);
      const y = d3.scaleLinear().domain(teffRange).range([y0 + panelH, y0]);
      const clipId = `clip-${p.row}-${p.col}`;

      svg
        .append("clipPath")
        .attr("id", clipId)
        .append("rect")
        .attr("x", x0)
        .attr("y", y0)
        .attr("width", panelW)
        .attr("height", panelH);

      const plot = svg.append("g").attr("clip-path", `url(#${clipId})`);

      plot
        .append("g")
        .selectAll("circle")
        .data(p.stars)
        .join("circle")
        .attr("cx", (d) => x(d[0]))
        .attr("cy", (d) => y(d[1]))
        .attr("r", 1.4)
        .attr("fill", "#7f7f7f");

      const line = d3
        .line()
        .x((d) => x(d[0]))
        .y((d) => y(d[1]))
        .curve(d3.curveNatural);

      plot
        .append("path")
        .attr("d", line(p.eq2))
        .attr("fill", "none")
        .attr("stroke", "#ffa500")
        .attr("stroke-width", 4.5);

      plot
        .append("path")
        .attr("d", line(equation1))
        .attr("fill", "none")
        .attr("stroke", "#008000")
        .attr("stroke-width", 1.5)
        .attr("stroke-dasharray", "5.5,2.4");

      // axes
      const styleAxis = (g) => {
        g.select(".domain").remove();
        g.selectAll("line").attr("stroke", "#000").attr("stroke-width", 0.8);
        g.selectAll("text").attr("fill", "#000").attr("font-size", 15.4).attr("font-family", FONT);
        g.attr("font-family", FONT);
      };

      svg
        .append("g")
        .attr("transform", `translate(${x0},0)`)
        .call(
          d3
            .axisLeft(y)
            .tickValues(yTicks)
            .tickSizeInner(3.5)
            .tickSizeOuter(0)
            .tickPadding(4.5)
            .tickFormat((d) => (p.col === 0 ? String(d) : ""))
        )
        .call(styleAxis);

      svg
        .append("g")
        .attr("transform", `translate(${x0 + panelW},0)`)
        .call(d3.axisRight(y).tickValues(yTicks).tickSizeInner(-3.5).tickSizeOuter(0).tickFormat(() => ""))
        .call(styleAxis);

      svg
        .append("g")
        .attr("transform", `translate(0,${y0 + panelH})`)
        .call(
          d3
            .axisBottom(x)
            .tickValues(xTicks)
            .tickSizeInner(-3.5)
            .tickSizeOuter(0)
            .tickPadding(10.4)
            .tickFormat((d) => (p.row === 1 ? d3.format(".1f")(d) : ""))
        )
        .call(styleAxis);

      svg
        .append("rect")
        .attr("x", x0)
        .attr("y", y0)
        .attr("width", panelW)
        .attr("height", panelH)
        .attr("fill", "none")
        .attr("stroke", "#000")
        .attr("stroke-width", 0.9);

      const label = svg
        .append("text")
        .attr("text-anchor", "middle")
        .attr("font-family", FONT)
        .attr("font-size", 16)
        .attr("fill", "#000");
      label.append("tspan").attr("x", x0 + 152).attr("y", y0 + 21).text(feHBins[p.col]);
      label.append("tspan").attr("x", x0 + 152).attr("y", y0 + 38.5).text(kSiBins[p.row]);

      if (p.row === 0 && p.col === 0) {
        const legend = svg.append("g");
        legend
          .append("rect")
          .attr("x", 97.3)
          .attr("y", 249.3)
          .attr("width", 146)
          .attr("height", 52.4)
          .attr("rx", 3)
          .attr("fill", "#fff")
          .attr("fill-opacity", 0.8)
          .attr("stroke", "#cccccc")
          .attr("stroke-width", 0.8);
        const entries = [
          { name: "Equation 2", color: "#ffa500", width: 4, dash: null, yy: 262.7 },
          { name: "Equation 1", color: "#008000", width: 1.5, dash: "5.5,2.4", yy: 286 },
        ];
        entries.forEach((e) => {
          legend
            .append("line")
            .attr("x1", 103)
            .attr("x2", 138)
            .attr("y1", e.yy)
            .attr("y2", e.yy)
            .attr("stroke", e.color)
            .attr("stroke-width", e.width)
            .attr("stroke-dasharray", e.dash);
          legend
            .append("text")
            .attr("x", 150)
            .attr("y", e.yy + 6.4)
            .attr("font-family", FONT)
            .attr("font-size", 16)
            .attr("fill", "#000")
            .text(e.name);
        });
      }
    });

    const midX = panelLeft + (panelW * 5) / 2;
    svg
      .append("text")
      .attr("x", midX)
      .attr("y", 17)
      .attr("text-anchor", "middle")
      .attr("font-family", FONT)
      .attr("font-size", 19.5)
      .text("Line pair 2");

    svg
      .append("text")
      .attr("x", midX)
      .attr("y", 637)
      .attr("text-anchor", "middle")
      .attr("font-family", FONT)
      .attr("font-size", 19)
      .text("LDR");

    const yLabel = svg
      .append("text")
      .attr("transform", "translate(22,329) rotate(-90)")
      .attr("text-anchor", "middle")
      .attr("font-family", FONT)
      .attr("font-size", 19);
    yLabel.append("tspan").attr("font-style", "italic").text("T");
    yLabel.append("tspan").attr("font-size", 13.5).attr("dy", 4).text("eff");
    yLabel.append("tspan").attr("dy", -4).text(" (K)");
  }, []);

  return (
    <div style={{ position: "absolute", left: 0, top: 0 }}>
      <svg ref={svgRef} width={W} height={H} />
    </div>
  );
}
